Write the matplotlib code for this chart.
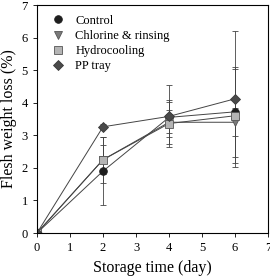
import numpy as np
import matplotlib.pyplot as plt
from matplotlib.lines import Line2D

plt.rcParams['font.family'] = ['Liberation Serif', 'DejaVu Serif']

days = [0, 2, 4, 6]
control = [0, 1.90, 3.55, 3.72]
control_err = [0, 1.05, 0.47, 1.38]
chlorine = [0, 2.25, 3.40, 3.40]
chlorine_err = [0, 0.45, 0.68, 0.43]
hydro = [0, 2.25, 3.36, 3.60]
hydro_err = [0, 0.70, 0.42, 1.45]
pp_tray = [0, 3.26, 3.58, 4.12]
pp_tray_err = [0, 0.08, 0.95, 2.08]

series = [
    ("Control", control, control_err, "o", "#1e1e1e", "#1e1e1e"),
    ("Chlorine & rinsing", chlorine, chlorine_err, "v", "#7a7a7a", "#555555"),
    ("Hydrocooling", hydro, hydro_err, "s", "#b4b4b4", "#555555"),
    ("PP tray", pp_tray, pp_tray_err, "D", "#4a4a4a", "#3a3a3a"),
]

fig = plt.figure(figsize=(2.70, 2.76), dpi=100)
ax = fig.add_axes([37 / 270, 43 / 276, 231 / 270, 228 / 276])

handles = []
for name, vals, err, mk, fc, ec in series:
    ms = 5.5 if mk != "D" else 5
    ax.errorbar(days, vals, yerr=err, color="#444444", lw=0.7, elinewidth=0.6,
                capsize=2.5, capthick=0.6, marker=mk, markersize=ms,
                markerfacecolor=fc, markeredgecolor=ec, markeredgewidth=0.6)
    handles.append(Line2D([], [], ls="none", marker=mk, markersize=ms,
                          markerfacecolor=fc, markeredgecolor=ec,
                          markeredgewidth=0.6, label=name))

ax.set_xlim(0, 7)
ax.set_ylim(0, 7)
ax.set_xticks(range(0, 8))
ax.set_yticks(range(0, 8))
ax.tick_params(labelsize=9, length=3, width=0.6, direction="out")
for s in ax.spines.values():
    s.set_linewidth(0.8)
ax.set_xlabel("Storage time (day)", fontsize=11.5, labelpad=4)
ax.set_ylabel("Flesh weight loss (%)", fontsize=11.5, labelpad=3)

ax.legend(handles=handles, loc="upper left", frameon=False, fontsize=9,
          handlelength=1.0, handletextpad=0.9, labelspacing=0.25,
          borderaxespad=0.2, bbox_to_anchor=(0.03, 0.99))

fig.savefig("out.png", dpi=100)
